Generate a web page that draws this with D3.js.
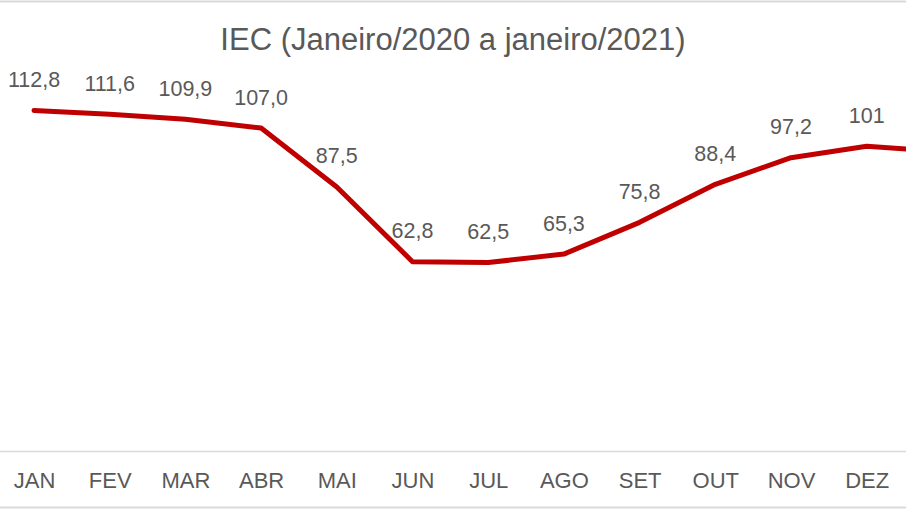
<!DOCTYPE html>
<html>
<head>
<meta charset="utf-8">
<script src="https://cdn.jsdelivr.net/npm/d3@7"></script>
<style>
  html, body { margin: 0; padding: 0; background: #fff; overflow: hidden; }
  svg { display: block; font-family: "Liberation Sans", Arial, sans-serif; }
</style>
</head>
<body>
<svg id="chart" width="906" height="509"></svg>
<script>
const title = "IEC (Janeiro/2020 a janeiro/2021)";
const categories = ["JAN", "FEV", "MAR", "ABR", "MAI", "JUN", "JUL", "AGO", "SET", "OUT", "NOV", "DEZ", "JAN 2021"];
const tickLabels = ["JAN", "FEV", "MAR", "ABR", "MAI", "JUN", "JUL", "AGO", "SET", "OUT", "NOV", "DEZ", "JAN"];
const values = [112.8, 111.6, 109.9, 107.0, 87.5, 62.8, 62.5, 65.3, 75.8, 88.4, 97.2, 101, 99.2];
const valueLabels = ["112,8", "111,6", "109,9", "107,0", "87,5", "62,8", "62,5", "65,3", "75,8", "88,4", "97,2", "101", "99,2"];

const W = 906, H = 509;
const svg = d3.select("#chart");
const textColor = "#595959";
const gridColor = "#d9d9d9";

// Chart frame borders (cropped chart area)
svg.append("line").attr("x1", 0).attr("x2", W).attr("y1", 1.5).attr("y2", 1.5)
  .attr("stroke", gridColor).attr("stroke-width", 2);
svg.append("line").attr("x1", 0).attr("x2", W).attr("y1", 507.5).attr("y2", 507.5)
  .attr("stroke", gridColor).attr("stroke-width", 2);

const x = d3.scalePoint().domain(categories).range([34, 34 + 12 * 75.7]);
const y = d3.scaleLinear().domain([0, 120]).range([451.5, 451.5 - 120 * 3.023]);
const visible = (c) => x(c) < W - 20;

// Title
svg.append("text")
  .attr("x", W / 2).attr("y", 50)
  .attr("text-anchor", "middle")
  .attr("fill", textColor)
  .style("font-size", "31px")
  .text(title);

// X axis (the 13th category lies beyond the cropped right edge)
const xAxis = d3.axisBottom(x).tickSize(0).tickPadding(0)
  .tickValues(categories.filter(visible))
  .tickFormat(d => tickLabels[categories.indexOf(d)]);
const gx = svg.append("g").attr("transform", `translate(0,${y(0)})`).call(xAxis);
gx.select(".domain").remove();
gx.append("line").attr("x1", 0).attr("x2", W).attr("y1", 0).attr("y2", 0)
  .attr("stroke", gridColor).attr("stroke-width", 1.5);
gx.selectAll(".tick text")
  .attr("dy", null)
  .attr("y", 36)
  .attr("fill", textColor)
  .style("font-size", "22px")
  .style("font-family", "'Liberation Sans', Arial, sans-serif");

// Line
const line = d3.line()
  .x((d, i) => x(categories[i]))
  .y(d => y(d));
svg.append("path")
  .datum(values)
  .attr("d", line)
  .attr("fill", "none")
  .attr("stroke", "#c00000")
  .attr("stroke-width", 5)
  .attr("stroke-linejoin", "round")
  .attr("stroke-linecap", "round");

// Data labels
const labelData = values.map((v, i) => ({ v, c: categories[i], t: valueLabels[i] }))
  .filter(d => visible(d.c));
svg.selectAll("text.lbl")
  .data(labelData)
  .join("text")
  .attr("class", "lbl")
  .attr("x", d => x(d.c))
  .attr("y", d => y(d.v) - 23.5)
  .attr("text-anchor", "middle")
  .attr("fill", textColor)
  .style("font-size", "21.5px")
  .text(d => d.t);
</script>
</body>
</html>
